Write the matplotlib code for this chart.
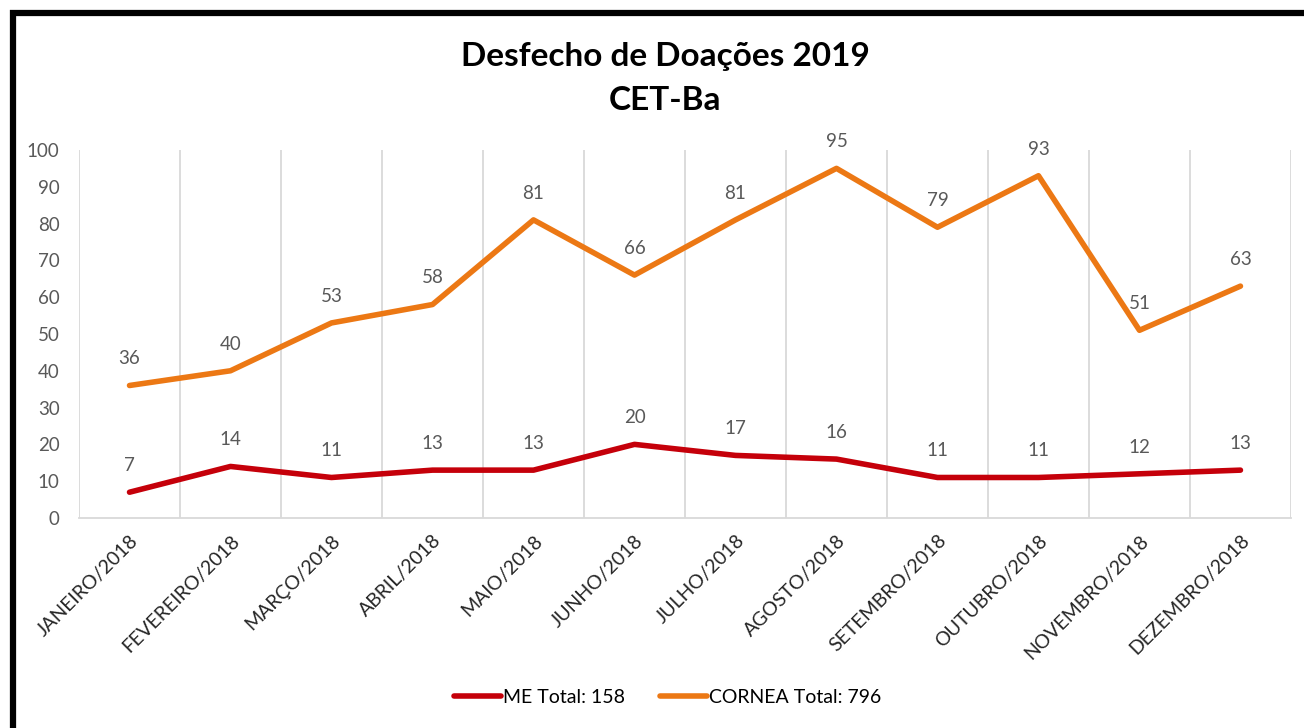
import matplotlib
matplotlib.use("Agg")
import matplotlib.pyplot as plt
from matplotlib.patches import Rectangle

meses = ["JANEIRO/2018", "FEVEREIRO/2018", "MARÇO/2018", "ABRIL/2018", "MAIO/2018",
         "JUNHO/2018", "JULHO/2018", "AGOSTO/2018", "SETEMBRO/2018", "OUTUBRO/2018",
         "NOVEMBRO/2018", "DEZEMBRO/2018"]
me = [7, 14, 11, 13, 13, 20, 17, 16, 11, 11, 12, 13]
cornea = [36, 40, 53, 58, 81, 66, 81, 95, 79, 93, 51, 63]

plt.rcParams['font.family'] = ['Lato', 'DejaVu Sans']
cinza = "#595959"

fig = plt.figure(figsize=(13.04, 7.28), dpi=100)
ax = fig.add_axes([0.0606, 0.2885, 0.9294, 0.5055])

x = list(range(len(meses)))
ax.plot(x, me, color="#C5000A", lw=4, solid_capstyle="round", solid_joinstyle="round",
        label="ME Total: %d" % sum(me))
ax.plot(x, cornea, color="#EC7814", lw=4, solid_capstyle="round", solid_joinstyle="round",
        label="CORNEA Total: %d" % sum(cornea))

for serie in (me, cornea):
    for i, v in enumerate(serie):
        ax.annotate(str(v), (i, v), xytext=(0, 13), textcoords="offset points",
                    ha="center", va="bottom", fontsize=13.5, color=cinza)

ax.set_xlim(-0.5, len(meses) - 0.5)
ax.set_ylim(0, 100)
ax.set_yticks(range(0, 101, 10))
ax.set_xticks(x)
ax.set_xticklabels(meses, rotation=45, ha="right", rotation_mode="anchor")
ax.set_xticks([i + 0.5 for i in range(-1, len(meses))], minor=True)
ax.tick_params(axis="x", which="major", length=0, pad=10, labelsize=14, labelcolor="#262626")
ax.tick_params(axis="x", which="minor", length=0)
ax.tick_params(axis="y", length=0, labelsize=13.5, labelcolor=cinza, pad=14)
ax.grid(axis="x", which="minor", color="#D9D9D9", lw=1.3)
for s in ("top", "right", "left"):
    ax.spines[s].set_visible(False)
ax.spines["bottom"].set_color("#D9D9D9")
ax.spines["bottom"].set_linewidth(1.3)

fig.text(0.51, 0.922, "Desfecho de Doações 2019", ha="center", va="center",
         fontsize=24, fontweight="bold", color="black")
fig.text(0.51, 0.862, "CET-Ba", ha="center", va="center",
         fontsize=24, fontweight="bold", color="black")

fig.legend(loc="center", bbox_to_anchor=(0.512, 0.042), ncol=2, frameon=False,
           fontsize=14, handlelength=2.4, handletextpad=0.1, columnspacing=1.8)

fig.patches.append(Rectangle((12.5 / 1304, -0.05), 1.1, 1 - 12.5 / 728 + 0.05,
                             transform=fig.transFigure, fill=False,
                             edgecolor="black", lw=4.5))

fig.savefig("out.png", dpi=100)
